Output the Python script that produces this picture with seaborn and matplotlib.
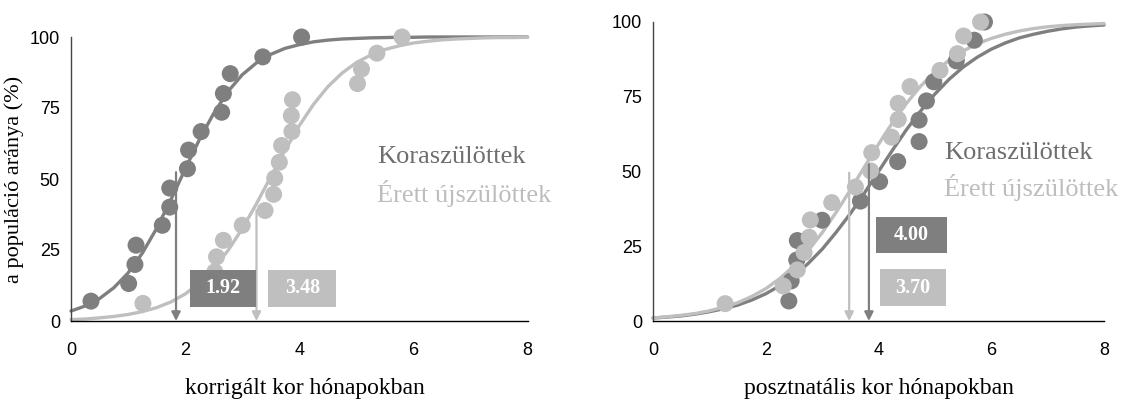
import numpy as np
import pandas as pd
import matplotlib
matplotlib.use("Agg")
import matplotlib.pyplot as plt
import seaborn as sns

# ---------------- data ----------------
# Left panel: corrected age (months)
L_pre_x = [0.35, 1.01, 1.12, 1.14, 1.60, 1.73, 1.73, 2.04, 2.06, 2.28, 2.64, 2.67, 2.79, 3.36, 4.04]
L_pre_y = [7.0, 13.2, 19.9, 26.7, 33.7, 40.1, 46.8, 53.6, 60.2, 66.7, 73.5, 80.1, 87.1, 93.0, 100.0]
L_term_x = [1.26, 2.52, 2.55, 2.67, 3.00, 3.40, 3.55, 3.57, 3.65, 3.69, 3.87, 3.86, 3.88, 5.02, 5.09, 5.36, 5.80]
L_term_y = [6.2, 17.3, 22.6, 28.4, 33.7, 38.9, 44.6, 50.3, 55.9, 61.8, 66.7, 72.3, 77.9, 83.6, 88.7, 94.3, 100.0]

# Right panel: postnatal age (months)
R_pre_x = [2.41, 2.45, 2.55, 2.56, 3.00, 3.68, 4.02, 4.34, 4.72, 4.72, 4.85, 4.98, 5.38, 5.70, 5.88]
R_pre_y = [6.7, 13.4, 20.4, 26.9, 33.7, 40.1, 46.6, 53.3, 60.0, 67.2, 73.6, 80.0, 87.0, 93.9, 100.0]
R_term_x = [1.28, 2.31, 2.56, 2.68, 2.77, 2.79, 3.17, 3.59, 3.86, 3.88, 4.23, 4.35, 4.35, 4.56, 5.09, 5.40, 5.51, 5.81]
R_term_y = [5.8, 11.7, 17.1, 22.9, 28.0, 33.8, 39.6, 44.8, 50.2, 56.3, 61.5, 67.4, 72.8, 78.4, 83.8, 89.4, 95.3, 100.0]

curve_x = [0.0, 0.25, 0.5, 0.75, 1.0, 1.25, 1.5, 1.75, 2.0, 2.25, 2.5, 2.75, 3.0, 3.25, 3.5, 3.75,
           4.0, 4.25, 4.5, 4.75, 5.0, 5.25, 5.5, 5.75, 6.0, 6.25, 6.5, 6.75, 7.0, 7.25, 7.5, 7.75, 8.0]
L_pre_curve = [3.5, 5.3, 7.9, 11.7, 16.9, 23.9, 32.6, 42.7, 53.5, 63.9, 73.1, 80.8, 86.7, 90.9, 93.9, 96.0,
               97.3, 98.3, 98.9, 99.3, 99.5, 99.7, 99.8, 99.9, 99.9, 100, 100, 100, 100, 100, 100, 100, 100]
L_term_curve = [0.5, 0.7, 1.1, 1.6, 2.3, 3.3, 4.7, 6.7, 9.5, 13.4, 18.4, 24.8, 32.5, 41.3, 50.8, 60.1,
                68.8, 76.3, 82.5, 87.3, 91.0, 93.6, 95.6, 96.9, 97.9, 98.5, 99.0, 99.3, 99.5, 99.7, 99.8, 99.8, 99.9]
R_pre_curve = [1.0, 1.3, 1.7, 2.3, 3.1, 4.1, 5.3, 7.0, 9.1, 11.8, 15.1, 19.2, 24.0, 29.7, 35.9, 42.8,
               50.0, 57.2, 64.1, 70.3, 75.9, 80.8, 84.9, 88.2, 90.9, 93.0, 94.7, 95.9, 96.9, 97.7, 98.3, 98.7, 99.0]
R_term_curve = [1.0, 1.4, 1.9, 2.5, 3.4, 4.6, 6.1, 8.2, 10.8, 14.2, 18.4, 23.5, 29.5, 36.4, 43.8, 51.5,
                59.1, 66.4, 72.9, 78.6, 83.3, 87.2, 90.3, 92.7, 94.5, 95.9, 97.0, 97.8, 98.4, 98.8, 99.1, 99.3, 99.5]

# median labels and arrow positions
L_labels = ["1.92", "3.48"]
R_labels = ["4.00", "3.70"]
L_arrow_x = [1.84, 3.25]
L_arrow_top = [52.4, 39.0]
R_arrow_x = [3.83, 3.48]
R_arrow_top = [52.4, 49.6]

series_names = ["Koraszülöttek", "Érett újszülöttek"]
y_ticks = [0, 25, 50, 75, 100]
x_ticks = [0, 2, 4, 6, 8]

DARK = "#7f7f7f"
LIGHT = "#bfbfbf"
DARK_TXT = "#6e6e6e"
LIGHT_TXT = "#bdbdbd"

sns.set_theme(style="white")
plt.rcParams['font.family'] = ['Liberation Sans', 'DejaVu Sans']

fig = plt.figure(figsize=(11.25, 3.99), dpi=100)
axL = fig.add_axes([71/1125, 1-321/399, (539-71)/1125, 284/399])
axR = fig.add_axes([653/1125, 1-321/399, (1104-653)/1125, 299/399])

serif = ['Liberation Serif', 'DejaVu Serif']


def draw_panel(ax, pre_x, pre_y, term_x, term_y, pre_c, term_c, xmax, xlabel):
    cdf = pd.DataFrame({"x": curve_x + curve_x,
                        "y": pre_c + term_c,
                        "g": [series_names[0]] * len(curve_x) + [series_names[1]] * len(curve_x)})
    sns.lineplot(data=cdf, x="x", y="y", hue="g", palette=[DARK, LIGHT], ax=ax,
                 legend=False, linewidth=2.4, sort=False, clip_on=False, zorder=2)
    sns.scatterplot(x=pre_x, y=pre_y, ax=ax, color=DARK, s=150, edgecolor="none",
                    linewidth=0, clip_on=False, zorder=3)
    sns.scatterplot(x=term_x, y=term_y, ax=ax, color=LIGHT, s=150, edgecolor="none",
                    linewidth=0, clip_on=False, zorder=4)
    ax.set_xlim(0, xmax)
    ax.set_ylim(0, 100)
    ax.set_xticks(x_ticks)
    ax.set_yticks(y_ticks)
    for s in ["top", "right"]:
        ax.spines[s].set_visible(False)
    ax.spines["bottom"].set_bounds(0, 8)
    ax.spines["bottom"].set_color("black")
    ax.spines["left"].set_color("#444444")
    ax.spines["bottom"].set_linewidth(1.0)
    ax.spines["left"].set_linewidth(1.0)
    ax.tick_params(axis="x", which="both", direction="out", length=6, width=1,
                   color="black", labelsize=13, labelcolor="black", pad=9)
    ax.tick_params(axis="y", which="both", direction="out", length=4, width=1,
                   color="#444444", labelsize=13, labelcolor="black", pad=4)
    ax.set_xlabel(xlabel, family=serif, fontsize=17, color="black", labelpad=14)


draw_panel(axL, L_pre_x, L_pre_y, L_term_x, L_term_y, L_pre_curve, L_term_curve, 8.2,
           "korrigált kor hónapokban")
draw_panel(axR, R_pre_x, R_pre_y, R_term_x, R_term_y, R_pre_curve, R_term_curve, 8.0,
           "posztnatális kor hónapokban")
axL.set_ylabel("a populáció aránya (%)", family=serif, fontsize=16, color="black", labelpad=4)
axR.set_ylabel("")

# arrows
for ax, xs, tops, cols in [(axL, L_arrow_x, L_arrow_top, [DARK, LIGHT]),
                           (axR, R_arrow_x, R_arrow_top, [DARK, LIGHT])]:
    for x, t, c in zip(xs, tops, cols):
        ax.annotate("", xy=(x, 0), xytext=(x, t),
                    arrowprops=dict(arrowstyle="-|>", color=c, lw=1.6,
                                    mutation_scale=13, shrinkA=0, shrinkB=0),
                    zorder=5)

# value boxes (x0, x1, y0, y1 in data units)
def box(ax, x0, x1, y0, y1, color, label):
    ax.add_patch(plt.Rectangle((x0, y0), x1 - x0, y1 - y0, facecolor=color,
                               edgecolor="none", zorder=6))
    ax.text((x0 + x1) / 2, (y0 + y1) / 2, label, ha="center", va="center",
            color="white", fontsize=14.5, fontweight="bold", family=serif, zorder=7)

box(axL, 2.08, 3.25, 5.0, 17.9, DARK, L_labels[0])
box(axL, 3.46, 4.65, 5.0, 17.9, LIGHT, L_labels[1])
box(axR, 3.96, 5.21, 22.6, 34.9, DARK, R_labels[0])
box(axR, 4.02, 5.19, 5.0, 17.3, LIGHT, R_labels[1])

# series labels
axL.text(5.36, 57.7, series_names[0], color=DARK_TXT, fontsize=19, family=serif, va="center", ha="left")
axL.text(5.36, 44.8, series_names[1], color=LIGHT_TXT, fontsize=19, family=serif, va="center", ha="left")
axR.text(5.17, 56.3, series_names[0], color=DARK_TXT, fontsize=19, family=serif, va="center", ha="left")
axR.text(5.17, 44.6, series_names[1], color=LIGHT_TXT, fontsize=19, family=serif, va="center", ha="left")

fig.savefig("out.png", dpi=100)
